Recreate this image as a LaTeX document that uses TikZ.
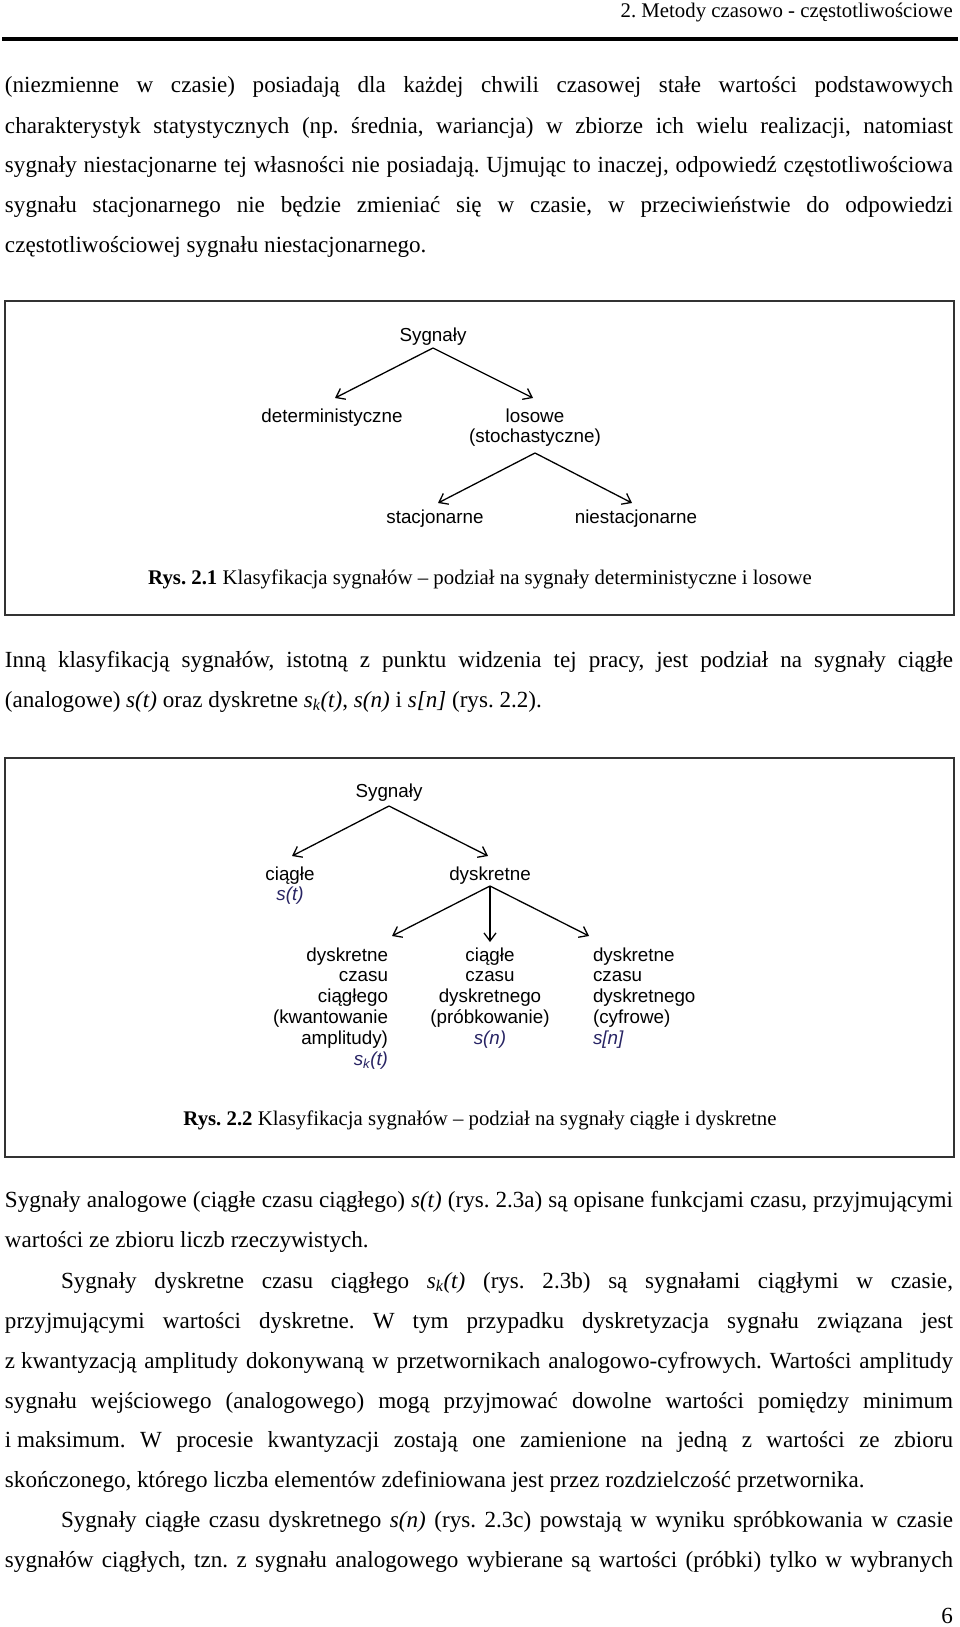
\documentclass[tikz,border=0pt]{standalone}
\usepackage{fontspec}
\setmainfont{Liberation Serif}
\newfontfamily\arialfam{Liberation Sans}
\usetikzlibrary{arrows.meta}
\definecolor{sigblue}{RGB}{40,36,100}
\definecolor{framecol}{RGB}{50,50,50}
\newcommand{\bodyfs}{\fontsize{23.1}{39.7}\selectfont\frenchspacing}
\newcommand{\capfs}{\fontsize{20.8}{24}\selectfont\frenchspacing}
\newcommand{\diafs}{\arialfam\fontsize{18.8}{20.8}\selectfont}
\newcommand{\jl}[2][948pt]{\makebox[#1][s]{#2}}
\newcommand{\sg}[1]{\textcolor{sigblue}{\textit{#1}}}
\begin{document}
\begin{tikzpicture}[x=1pt,y=-1pt,
  body/.style={anchor=base west, inner sep=0pt, outer sep=0pt, font=\bodyfs},
  capt/.style={anchor=base, inner sep=0pt, outer sep=0pt, font=\capfs},
  dlabel/.style={anchor=base, inner sep=0pt, outer sep=0pt, font=\diafs},
  arr/.style={-{Straight Barb[length=8pt,width=12pt]}, line width=1.3pt},
  frame/.style={draw=framecol, line width=2pt}]
\useasboundingbox (0,0) rectangle (960,1627);
\fill[white] (0,0) rectangle (960,1627);

% header
\node[anchor=base east, inner sep=0pt, font=\capfs] (hdr) at (953,18) {2. Metody czasowo - częstotliwościowe};
\coordinate (rl) at (2,39);
\coordinate (rr) at (958,39);
\draw[line width=4pt] (rl) -- (rr);

% paragraph 1
\node[body] (p1a) at (5,93)  {\jl{(niezmienne w czasie) posiadają dla każdej chwili czasowej stałe wartości podstawowych}};
\node[body] (p1b) at (5,133) {\jl{charakterystyk statystycznych (np. średnia, wariancja) w zbiorze ich wielu realizacji, natomiast}};
\node[body] (p1c) at (5,172) {\jl{sygnały niestacjonarne tej własności nie posiadają. Ujmując to inaczej, odpowiedź częstotliwościowa}};
\node[body] (p1d) at (5,212) {\jl{sygnału stacjonarnego nie będzie zmieniać się w czasie, w przeciwieństwie do odpowiedzi}};
\node[body] (p1e) at (5,252) {częstotliwościowej sygnału niestacjonarnego.};

% figure 2.1
\draw[frame] (5,301) rectangle (954,615);
\node[dlabel] (s1) at (433,341) {Sygnały};
\node[dlabel] (det) at (332,422) {deterministyczne};
\node[dlabel] (los) at (535,422) {\begin{tabular}[t]{@{}c@{}}losowe\\(stochastyczne)\end{tabular}};
\node[dlabel] (stac) at (435,523) {stacjonarne};
\node[dlabel] (nstac) at (636,523) {niestacjonarne};
\coordinate (a1) at (433,348);
\coordinate (t1l) at (335,398);
\coordinate (t1r) at (533,398);
\coordinate (a2) at (535,453);
\coordinate (t2l) at (438,503);
\coordinate (t2r) at (632,503);
\draw[arr] (a1) -- (t1l);
\draw[arr] (a1) -- (t1r);
\draw[arr] (a2) -- (t2l);
\draw[arr] (a2) -- (t2r);
\node[capt] (cap1) at (480,584) {\textbf{Rys. 2.1} Klasyfikacja sygnałów – podział na sygnały deterministyczne i losowe};

% paragraph 2
\node[body] (p2a) at (5,667) {\jl{Inną klasyfikacją sygnałów, istotną z punktu widzenia tej pracy, jest podział na sygnały ciągłe}};
\node[body] (p2b) at (5,707) {(analogowe) \textit{s(t)} oraz dyskretne \textit{s\textsubscript{k}(t)}, \textit{s(n)} i \textit{s[n]} (rys. 2.2).};

% figure 2.2
\draw[frame] (5,758) rectangle (954,1157);
\node[dlabel] (s2) at (389,797) {Sygnały};
\node[dlabel] (cia) at (290,880) {\begin{tabular}[t]{@{}c@{}}ciągłe\\\sg{s(t)}\end{tabular}};
\node[dlabel] (dys) at (490,880) {dyskretne};
\node[dlabel, anchor=base east] (dcc) at (388,961) {\begin{tabular}[t]{@{}r@{}}dyskretne\\czasu\\ciągłego\\(kwantowanie\\amplitudy)\\\sg{s\textsubscript{k}(t)}\end{tabular}};
\node[dlabel] (ccd) at (490,961) {\begin{tabular}[t]{@{}c@{}}ciągłe\\czasu\\dyskretnego\\(próbkowanie)\\\sg{s(n)}\end{tabular}};
\node[dlabel, anchor=base west] (dcd) at (593,961) {\begin{tabular}[t]{@{}l@{}}dyskretne\\czasu\\dyskretnego\\(cyfrowe)\\\sg{s[n]}\end{tabular}};
\coordinate (b1) at (389,806);
\coordinate (u1l) at (292,856);
\coordinate (u1r) at (488,856);
\coordinate (b2) at (490,886);
\coordinate (u2l) at (392,936);
\coordinate (u2m) at (490,942);
\coordinate (u2r) at (589,936);
\draw[arr] (b1) -- (u1l);
\draw[arr] (b1) -- (u1r);
\draw[arr] (b2) -- (u2l);
\draw[arr] (b2) -- (u2m);
\draw[arr] (b2) -- (u2r);
\node[capt] (cap2) at (480,1125) {\textbf{Rys. 2.2} Klasyfikacja sygnałów – podział na sygnały ciągłe i dyskretne};

% paragraphs 3-5
\node[body] (p3a) at (5,1207) {\jl{Sygnały analogowe (ciągłe czasu ciągłego) \textit{s(t)} (rys. 2.3a) są opisane funkcjami czasu, przyjmującymi}};
\node[body] (p3b) at (5,1247) {wartości ze zbioru liczb rzeczywistych.};
\node[body] (p4a) at (61,1288) {\jl[892pt]{Sygnały dyskretne czasu ciągłego \textit{s\textsubscript{k}(t)} (rys. 2.3b) są sygnałami ciągłymi w czasie,}};
\node[body] (p4b) at (5,1328) {\jl{przyjmującymi wartości dyskretne. W tym przypadku dyskretyzacja sygnału związana jest}};
\node[body] (p4c) at (5,1368) {\jl{z\hspace{5.8pt}kwantyzacją amplitudy dokonywaną w przetwornikach analogowo-cyfrowych. Wartości amplitudy}};
\node[body] (p4d) at (5,1408) {\jl{sygnału wejściowego (analogowego) mogą przyjmować dowolne wartości pomiędzy minimum}};
\node[body] (p4e) at (5,1447) {\jl{i\hspace{5.8pt}maksimum. W procesie kwantyzacji zostają one zamienione na jedną z wartości ze zbioru}};
\node[body] (p4f) at (5,1487) {skończonego, którego liczba elementów zdefiniowana jest przez rozdzielczość przetwornika.};
\node[body] (p5a) at (61,1527) {\jl[892pt]{Sygnały ciągłe czasu dyskretnego \textit{s(n)} (rys. 2.3c) powstają w wyniku spróbkowania w czasie}};
\node[body] (p5b) at (5,1567) {\jl{sygnałów ciągłych, tzn. z sygnału analogowego wybierane są wartości (próbki) tylko w wybranych}};

% page number
\node[anchor=base east, inner sep=0pt, font=\bodyfs] (pg) at (953,1623) {6};
\end{tikzpicture}
\end{document}
